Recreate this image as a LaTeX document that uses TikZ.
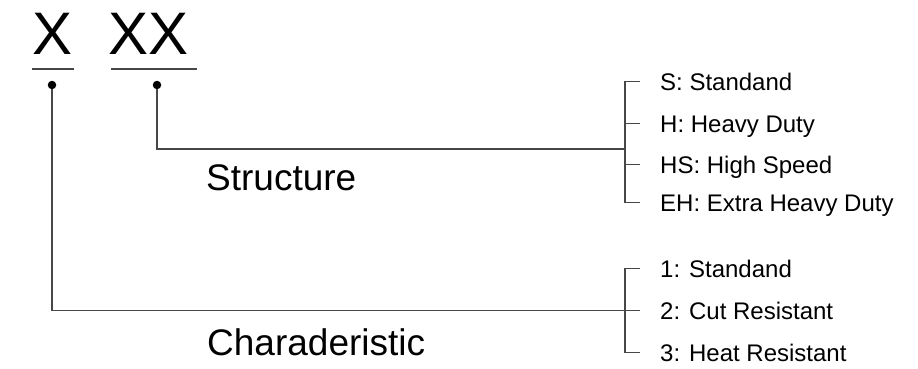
\documentclass[tikz,border=0pt]{standalone}
\usepackage{fontspec}
\setmainfont{Liberation Sans}
\usetikzlibrary{positioning}
\tikzset{
  code/.style={inner sep=0pt, anchor=base, font=\fontsize{60}{60}\selectfont},
  field/.style={inner sep=0pt, anchor=base west, font=\fontsize{37}{40}\selectfont},
  option/.style={inner sep=0pt, anchor=base west, text height=17pt, text depth=0pt, font=\fontsize{24}{28}\selectfont},
  lead/.style={draw=black!72, line width=1.3pt},
  pin/.style={circle, fill=black, inner sep=0pt, minimum size=8.5pt},
  }

\begin{document}
\begin{tikzpicture}[x=1pt, y=-1pt]
  \useasboundingbox (0,0) rectangle (918,369);
  % code letters with their underlines
  \node [code] (digitA) at (53,55)    {X};
  \node [code] (digitB) at (148.5,55) {XX};
  \draw [lead] (32,69)  -- (74,69);
  \draw [lead] (111,69) -- (197,69);
  \node [pin] (pinA) at (52,85)  {};
  \node [pin] (pinB) at (157,85) {};

  % field names
  \node [field] (structure) at (206,190) {Structure};
  \node [field] (charact)   at (207,355) {Charaderistic};

  % options
  \node [option] (optS)  at (660,90)  {S: Standand};
  \node [option] (optH)  at (660,132) {H: Heavy Duty};
  \node [option] (optHS) at (660,173) {HS: High Speed};
  \node [option] (optEH) at (660,211) {EH: Extra Heavy Duty};
  \node [option] (optC1) at (660,277) {1: Standand};
  \node [option] (optC2) at (660,319) {2: Cut Resistant};
  \node [option] (optC3) at (660,361) {3: Heat Resistant};

  % brackets
  \draw [lead] ([xshift=-20pt]optS.west) -- ++(-15,0) |- ([xshift=-20pt]optEH.west);
  \foreach \opt in {optH, optHS}
    \draw [lead] ([xshift=-20pt]\opt.west) -- ++(-15,0);
  \draw [lead] ([xshift=-20pt]optC1.west) -- ++(-15,0) |- ([xshift=-20pt]optC3.west);
  \coordinate (joinS) at (625,149);

  % leads from the code letters
  \draw [lead] (pinB) |- (joinS);
  \draw [lead] (pinA) |- ([xshift=-20pt]optC2.west);
\end{tikzpicture}
\end{document}
